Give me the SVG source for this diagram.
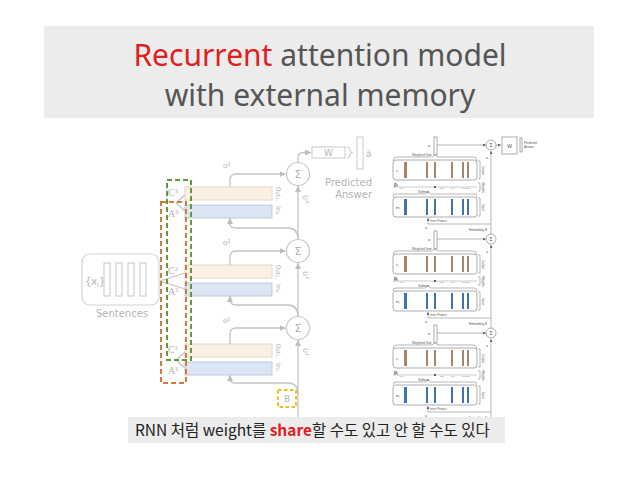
<svg xmlns="http://www.w3.org/2000/svg" xmlns:xlink="http://www.w3.org/1999/xlink" width="638" height="479" viewBox="0 0 638 479">
<style>
.title{font-family:"Noto Sans","Open Sans",sans-serif;font-size:30px;fill:#555;}
.lg{font-family:"DejaVu Sans","Liberation Sans",sans-serif;fill:#b4b4b4;}
.lgs{font-family:"Liberation Serif",serif;fill:#b4b4b4;}
.ln{fill:none;stroke:#c4c4c4;stroke-width:1.3;}
.pk{fill:#fcefe3;stroke:#e6d6c6;stroke-width:1;}
.bl{fill:#dae6f4;stroke:#bccbdc;stroke-width:1;}
.sig{fill:#fff;stroke:#c8c8c8;stroke-width:1.2;}
.rt{font-family:"Liberation Sans",sans-serif;fill:#555;}
.rl{fill:none;stroke:#888;stroke-width:0.6;}
.rbox{fill:#fff;stroke:#8a8a8a;stroke-width:0.7;}
.br{fill:#a88468;}
.bb{fill:#4272aa;}
</style>
<defs>
<marker id="ah" markerWidth="6" markerHeight="6" refX="6" refY="3" orient="auto" markerUnits="userSpaceOnUse"><path d="M0,0 L6,3 L0,6 z" fill="#bdbdbd"/></marker>
<marker id="ah2" markerWidth="3" markerHeight="3" refX="3" refY="1.5" orient="auto" markerUnits="userSpaceOnUse"><path d="M0,0 L3,1.5 L0,3 z" fill="#666"/></marker>
<g id="layer">
<rect class="rbox" x="434" y="137" width="3" height="18"/>
<text class="rt" x="428" y="147" font-size="4">o</text>
<line class="rl" x1="437" y1="145" x2="486" y2="145" marker-end="url(#ah2)"/>
<circle class="rbox" cx="491" cy="145" r="5"/>
<text class="rt" x="491" y="146.8" font-size="5" text-anchor="middle">Σ</text>
<text class="rt" x="486" y="159" font-size="4">u</text>
<path class="rl" d="M393 161 Q393 157 397 157 H431 Q434 157 435 154 Q436 157 439 157 H473 Q477 157 477 161"/>
<text class="rt" x="412" y="156" font-size="3">Weighted Sum</text>
<rect class="rbox" x="393" y="160" width="84" height="20" rx="3"/>
<text class="rt" x="396" y="172" font-size="4">c<tspan font-size="2.5" dy="1">i</tspan></text>
<rect class="br" x="404" y="162" width="3" height="16"/>
<rect class="br" x="426" y="162" width="2" height="16"/>
<rect class="br" x="434" y="162" width="2" height="16"/>
<rect class="br" x="451" y="162" width="2" height="16"/>
<rect class="br" x="462" y="162" width="2" height="16"/>
<rect class="br" x="467" y="162" width="2" height="16"/>
<path class="rl" d="M478 161 H480 V179 H478"/>
<text class="rt" font-size="3" transform="translate(481.5,166) rotate(90)">Output</text>
<line x1="393" y1="187" x2="477" y2="187" stroke="#aaa" stroke-width="0.6"/>
<text class="rt" x="394" y="186" font-size="5" font-weight="bold">p<tspan font-size="3" dy="1">i</tspan></text>
<circle cx="435" cy="187" r="1" fill="#333"/>
<text class="rt" x="440" y="189" font-size="2.5">0.8</text>
<text class="rt" x="400" y="189" font-size="2.5">0.1</text>
<text class="rt" x="451" y="189" font-size="2.5">0.1</text>
<text class="rt" x="462" y="189" font-size="2.5">0.1 0.1</text>
<path class="rl" d="M478 183 H480 V191 H478"/>
<text class="rt" font-size="3" transform="translate(481.5,182) rotate(90)">Weights</text>
<path class="rl" d="M393 197 Q393 194 396 194 H425 Q427 194 428 191 Q429 194 431 194 H474 Q477 194 477 197"/>
<text class="rt" x="418" y="193" font-size="3">Softmax</text>
<rect class="rbox" x="393" y="197" width="84" height="20" rx="3"/>
<text class="rt" x="396" y="209" font-size="4">m<tspan font-size="2.5" dy="1">i</tspan></text>
<rect class="bb" x="404" y="199" width="3" height="16"/>
<rect class="bb" x="426" y="199" width="2" height="16"/>
<rect class="bb" x="434" y="199" width="2" height="16"/>
<rect class="bb" x="451" y="199" width="2" height="16"/>
<rect class="bb" x="462" y="199" width="2" height="16"/>
<rect class="bb" x="467" y="199" width="2" height="16"/>
<path class="rl" d="M478 198 H480 V216 H478"/>
<text class="rt" font-size="3" transform="translate(481.5,204) rotate(90)">Input</text>
<line class="rl" x1="428" y1="224" x2="428" y2="218" marker-end="url(#ah2)"/>
<text class="rt" x="430" y="222" font-size="2.8">Inner Product</text>
<text class="rt" x="425" y="229" font-size="4">u</text>
<line class="rl" x1="428" y1="224" x2="491" y2="224"/>
<text class="rt" x="487" y="231" font-size="3" text-anchor="end">Embedding B</text>
</g>
</defs>
<rect width="638" height="479" fill="#fff"/>

<g id="title">
<rect x="44" y="26" width="550" height="92" fill="#ececec"/>
<text class="title" x="320" y="66" text-anchor="middle"><tspan fill="#e0201c">Recurrent</tspan> attention model</text>
<text class="title" x="320" y="106" text-anchor="middle">with external memory</text>
</g>

<g id="sentences">
<rect x="82" y="254" width="77" height="51" rx="8" fill="none" stroke="#d4d4d4" stroke-width="1.2"/>
<text class="lg" x="85" y="285" font-size="10">{x<tspan font-size="6" dy="2">i</tspan><tspan dy="-2">}</tspan></text>
<rect x="104" y="263" width="6" height="33" fill="none" stroke="#cfcfcf" stroke-width="1.2"/>
<rect x="116" y="263" width="6" height="33" fill="none" stroke="#cfcfcf" stroke-width="1.2"/>
<rect x="128" y="263" width="6" height="33" fill="none" stroke="#cfcfcf" stroke-width="1.2"/>
<rect x="140" y="263" width="6" height="33" fill="none" stroke="#cfcfcf" stroke-width="1.2"/>
<text class="lg" x="122" y="317" font-size="10" text-anchor="middle">Sentences</text>
</g>

<g id="layer3">
<rect class="pk" x="185" y="187" width="87" height="13"/>
<rect class="bl" x="185" y="205" width="87" height="13"/>
<text class="lgs" x="168" y="196" font-size="10">C³</text>
<text class="lgs" x="168" y="217" font-size="10">A³</text>
<text class="lgs" x="223" y="168" font-size="9">o³</text>
<text class="lg" font-size="6.5" transform="translate(276,187) rotate(90)" textLength="14" lengthAdjust="spacingAndGlyphs">Out₃,</text>
<text class="lg" font-size="6.5" transform="translate(276,206) rotate(90)">In₃</text>
</g>
<g id="layer2">
<rect class="pk" x="185" y="265" width="87" height="13"/>
<rect class="bl" x="185" y="283" width="87" height="13"/>
<text class="lgs" x="168" y="274" font-size="10">C²</text>
<text class="lgs" x="168" y="295" font-size="10">A²</text>
<text class="lgs" x="223" y="245" font-size="9">o²</text>
<text class="lg" font-size="6.5" transform="translate(276,265) rotate(90)" textLength="14" lengthAdjust="spacingAndGlyphs">Out₂,</text>
<text class="lg" font-size="6.5" transform="translate(276,284) rotate(90)">In₂</text>
</g>
<g id="layer1">
<rect class="pk" x="185" y="344" width="87" height="13"/>
<rect class="bl" x="185" y="362" width="87" height="13"/>
<text class="lgs" x="168" y="353" font-size="10">C¹</text>
<text class="lgs" x="168" y="374" font-size="10">A¹</text>
<text class="lgs" x="223" y="323" font-size="9">o¹</text>
<text class="lg" font-size="6.5" transform="translate(276,344) rotate(90)" textLength="14" lengthAdjust="spacingAndGlyphs">Out₁,</text>
<text class="lg" font-size="6.5" transform="translate(276,363) rotate(90)">In₁</text>
</g>

<g id="sums">
<circle class="sig" cx="298" cy="174" r="11.5"/>
<text class="lg" x="298" y="178" font-size="11" text-anchor="middle">Σ</text>
<circle class="sig" cx="298" cy="251" r="11.5"/>
<text class="lg" x="298" y="255" font-size="11" text-anchor="middle">Σ</text>
<circle class="sig" cx="298" cy="328" r="11.5"/>
<text class="lg" x="298" y="332" font-size="11" text-anchor="middle">Σ</text>
<text class="lg" font-size="8" transform="translate(303,195) rotate(90)">u³</text>
<text class="lg" font-size="8" transform="translate(303,271) rotate(90)">u²</text>
<text class="lg" font-size="8" transform="translate(303,348) rotate(90)">u¹</text>
</g>

<g id="answer">
<rect x="312" y="147" width="33" height="11" fill="#fff" stroke="#cfcfcf" stroke-width="1.1"/>
<text class="lg" x="328.5" y="156" font-size="9" text-anchor="middle">W</text>
<path d="M347 147 Q350 147 350 150 V151 Q350 152.5 353 152.5 Q350 152.5 350 154 V155 Q350 158 347 158" fill="none" stroke="#c8c8c8" stroke-width="1"/>
<rect x="357" y="137" width="6" height="32" fill="#fff" stroke="#cfcfcf" stroke-width="1.1"/>
<text class="lg" x="366" y="157" font-size="9">â</text>
<text class="lg" x="372" y="186" font-size="10" text-anchor="end">Predicted</text>
<text class="lg" x="372" y="198" font-size="10" text-anchor="end">Answer</text>
</g>

<g id="B">
<rect x="278" y="390" width="18" height="17" fill="#fff" stroke="#e8c020" stroke-width="2" stroke-dasharray="3.5,2.5"/>
<text class="lg" x="287" y="402" font-size="9" text-anchor="middle">B</text>
</g>

<g id="connectors">
<path class="ln" d="M230 187 V180 Q230 174 236 174 H285.5" marker-end="url(#ah)"/>
<path class="ln" d="M230 265 V257 Q230 251 236 251 H285.5" marker-end="url(#ah)"/>
<path class="ln" d="M230 344 V334 Q230 328 236 328 H285.5" marker-end="url(#ah)"/>
<path class="ln" d="M298 239.5 Q298 228 288 228 H236 Q230 228 230 224 V218" marker-end="url(#ah)"/>
<path class="ln" d="M298 316.5 Q298 305 288 305 H236 Q230 305 230 300 V296" marker-end="url(#ah)"/>
<path class="ln" d="M298 395 Q298 383 288 383 H236 Q230 383 230 380 V375" marker-end="url(#ah)"/>
<path class="ln" d="M298 418 V340" marker-end="url(#ah)"/>
<path class="ln" d="M298 316.5 V263" marker-end="url(#ah)"/>
<path class="ln" d="M298 239.5 V186" marker-end="url(#ah)"/>
<path class="ln" d="M298 162.5 V158 Q298 152.5 304 152.5 H311" marker-end="url(#ah)"/>
<path class="ln" d="M176 203 L185 195 M176 203 L185 211"/>
<path class="ln" d="M160 281 L185 273 M160 281 L185 289"/>
<path class="ln" d="M176 360 L185 352 M176 360 L185 368"/>
</g>

<g id="share-boxes">
<rect x="167" y="180" width="24" height="180" fill="none" stroke="#5c9a3c" stroke-width="2" stroke-dasharray="5,3"/>
<rect x="161" y="202" width="25" height="181" fill="none" stroke="#d47a3c" stroke-width="2" stroke-dasharray="5,3"/>
</g>

<g id="memn2n">
<use xlink:href="#layer"/>
<use xlink:href="#layer" transform="translate(0,94)"/>
<use xlink:href="#layer" transform="translate(0,188)"/>
<line class="rl" x1="491" y1="418" x2="491" y2="339" marker-end="url(#ah2)"/>
<line class="rl" x1="491" y1="328" x2="491" y2="245" marker-end="url(#ah2)"/>
<line class="rl" x1="491" y1="234" x2="491" y2="151" marker-end="url(#ah2)"/>
<line class="rl" x1="496" y1="145" x2="501" y2="145" marker-end="url(#ah2)"/>
<rect class="rbox" x="502" y="137" width="15" height="17"/>
<text class="rt" x="509.5" y="147.5" font-size="5" text-anchor="middle">W</text>
<rect class="rbox" x="520" y="138" width="2" height="14"/>
<text class="rt" x="524" y="144" font-size="3">Predicted</text>
<text class="rt" x="524" y="148" font-size="3">Answer</text>
</g>

<g id="caption">
<rect x="128" y="417" width="377" height="26" fill="#ececec"/>
<text x="135" y="436" font-family="'Noto Sans CJK KR','Noto Sans',sans-serif" font-size="15.5" fill="#222">RNN 처럼 weight를 <tspan fill="#e02020" font-weight="bold">share</tspan>할 수도 있고 안 할 수도 있다</text>
</g>
</svg>
